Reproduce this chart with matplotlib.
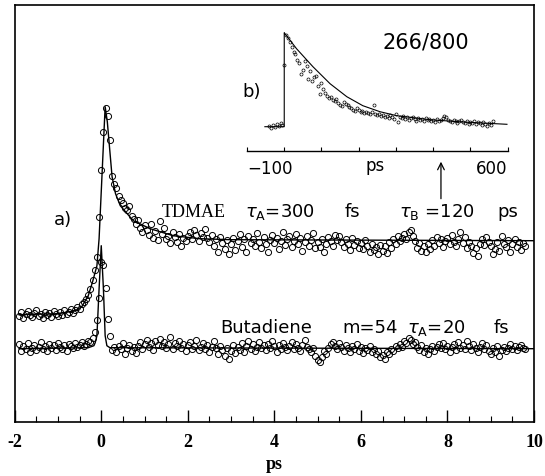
import numpy as np
import matplotlib.pyplot as plt

plt.rcParams['axes.unicode_minus'] = False

# ---- panel a): TDMAE and butadiene transients, delay step 0.05 ps ----
dt = 0.05

# TDMAE, t = -1.90 ... -0.65
tdmae_pre = [106, 110, 104, 108, 111, 107, 105, 109, 112, 106,
             108, 104, 110, 107, 109, 105, 111, 108, 106, 110,
             107, 112, 108, 110, 113, 109]
# TDMAE, t = -0.60 ... 1.95
tdmae_peak = [112, 115, 113, 118, 120, 123, 127, 133, 142, 152,
              165, 205, 252, 290, 314, 306, 282, 246, 238, 234,
              226, 222, 219, 214, 212, 216, 206, 203, 198, 202,
              194, 190, 197, 192, 187, 198, 184, 191, 182, 201,
              188, 194, 183, 186, 179, 190, 185, 180, 188, 176,
              184, 181]
# TDMAE, t = 2.00 ... 9.80
tdmae_tail = [186, 190, 183, 192, 187, 181, 189, 185, 193, 184,
              180, 187, 176, 183, 170, 185, 179, 173, 182, 168,
              178, 184, 172, 181, 188, 175, 183, 170, 186, 179,
              183, 176, 189, 180, 174, 185, 178, 170, 182, 187,
              179, 184, 173, 181, 190, 177, 183, 186, 175, 181,
              188, 178, 184, 171, 180, 186, 176, 182, 189, 174,
              180, 175, 183, 170, 178, 185, 181, 176, 187, 182,
              186, 180, 175, 183, 178, 172, 184, 177, 181, 174,
              179, 173, 182, 176, 170, 178, 172, 175, 168, 177,
              171, 176, 169, 180, 174, 183, 178, 186, 181, 184,
              188, 183, 190, 192, 186, 181, 174, 179, 171, 176,
              170, 178, 173, 182, 176, 185, 179, 183, 175, 181,
              184, 178, 187, 180, 176, 183, 190, 179, 185, 174,
              180, 176, 169, 174, 166, 178, 183, 177, 185, 180,
              176, 168, 173, 180, 171, 186, 178, 175, 182, 170,
              178, 183, 175, 180, 172, 179, 176]

# butadiene m=54, t = -1.90 ... -0.30
buta_pre = [78, 71, 76, 73, 79, 70, 74, 77, 72, 75,
            80, 73, 76, 71, 78, 74, 77, 72, 79, 75,
            73, 77, 71, 78, 76, 74, 79, 75, 77, 80,
            76, 78, 81]
# butadiene, t = -0.25 ... 0.30
buta_peak = [80, 84, 90, 102, 124, 160, 157, 134, 103, 86, 72, 75]
# butadiene, t = 0.35 ... 9.80
buta_tail = [70, 76, 73, 79, 68, 74, 77, 71, 75, 69,
             76, 80, 73, 78, 82, 75, 79, 72, 81, 77,
             83, 76, 80, 74, 78, 85, 73, 79, 76, 81,
             74, 78, 71, 77, 80, 73, 76, 82, 72, 75,
             79, 73, 77, 70, 75, 81, 74, 68, 76, 72,
             66, 74, 63, 71, 77, 69, 75, 72, 79, 70,
             76, 81, 73, 78, 71, 75, 80, 74, 77, 72,
             78, 74, 81, 76, 70, 77, 73, 79, 75, 72,
             76, 80, 73, 78, 74, 71, 77, 82, 75, 73,
             70, 74, 66, 62, 60, 65, 71, 68, 74, 78,
             80, 76, 73, 79, 75, 71, 77, 74, 70, 76,
             73, 78, 71, 75, 69, 74, 72, 76, 70, 73,
             68, 71, 65, 67, 63, 70, 68, 73, 71, 76,
             74, 78, 75, 81, 79, 84, 82, 78, 80, 75,
             72, 77, 70, 74, 68, 73, 76, 71, 75, 78,
             74, 79, 73, 76, 70, 75, 78, 72, 80, 74,
             77, 73, 81, 76, 72, 78, 74, 70, 75, 79,
             73, 77, 71, 68, 74, 70, 76, 66, 72, 75,
             71, 74, 78, 73, 76, 72, 75, 77, 74, 73]

# fitted curves
tdmae_fit_t = [-1.9, -1.0, -0.6, -0.45, -0.3, -0.2, -0.1, -0.05, 0.09, 0.14,
               0.25, 0.33, 0.44, 0.74, 1.13, 1.66, 2.28, 3.0, 10.0]
tdmae_fit_y = [107, 108, 111, 115, 126, 140, 156, 183, 315, 300,
               245, 228, 216, 201, 193, 186, 183, 182, 181]
buta_fit_t = [-1.9, -0.3, -0.17, -0.14, -0.1, -0.05, 0.0, 0.05, 0.09, 0.13, 0.2, 10.0]
buta_fit_y = [73, 74, 76, 79, 86, 133, 176, 133, 86, 76, 74, 73]

# ---- panel b): 266/800 long scan, step 5 ps ----
inset_pre = [25, 23, 26, 24, 27, 25, 28, 26]          # t = -40 ... -5
inset_rise = [86]                                      # t = 0
inset_decay = [116, 113, 109, 104, 99, 97, 91, 88, 77, 81,   # t = 5 ... 560
               90, 85, 72, 80, 70, 74, 75, 65, 57, 68,
               62, 58, 55, 53, 54, 51, 50, 52, 48, 46,
               45, 49, 47, 46, 44, 43, 41, 40, 43, 41,
               39, 40, 38, 39, 38, 37, 39, 46, 37, 36,
               37, 35, 36, 34, 35, 33, 36, 34, 32, 37,
               29, 34, 33, 35, 32, 34, 31, 33, 34, 32,
               30, 33, 31, 32, 30, 33, 31, 32, 30, 31,
               29, 32, 30, 31, 33, 35, 34, 31, 30, 29,
               31, 30, 28, 30, 31, 29, 28, 30, 27, 29,
               28, 30, 27, 29, 28, 26, 29, 27, 25, 28,
               26, 30]
inset_fit_t = [-52, 0, 0, 2, 33, 77, 123, 168, 211, 257, 302, 391, 480, 598]
inset_fit_y = [24, 24, 118, 117, 102, 84, 67, 54, 45, 39, 35, 31, 28.7, 26.4]
inset_ticks = [-100, 0, 100, 200, 300, 400, 500, 600]

# time grids
t_tdmae = np.concatenate([-1.9 + dt * np.arange(len(tdmae_pre)),
                          -0.6 + dt * np.arange(len(tdmae_peak)),
                          2.0 + dt * np.arange(len(tdmae_tail))])
y_tdmae = np.array(tdmae_pre + tdmae_peak + tdmae_tail)
t_buta = np.concatenate([-1.9 + dt * np.arange(len(buta_pre)),
                         -0.25 + dt * np.arange(len(buta_peak)),
                         0.35 + dt * np.arange(len(buta_tail))])
y_buta = np.array(buta_pre + buta_peak + buta_tail)
t_inset = np.concatenate([-40 + 5 * np.arange(len(inset_pre)),
                          [0],
                          5 + 5 * np.arange(len(inset_decay))])
y_inset = np.array(inset_pre + inset_rise + inset_decay)

serif = 'Liberation Serif'
sans = 'DejaVu Sans'

fig = plt.figure(figsize=(5.45, 4.77), dpi=100)
W, H = 545.0, 477.0
ax = fig.add_axes([14.7 / W, 1 - 422.7 / H, (534 - 14.7) / W, (422.7 - 5.7) / H])

mk = dict(marker='o', ls='none', mfc='none', mec='black', ms=4.4, mew=0.7)
ax.plot(t_tdmae, y_tdmae, **mk)
ax.plot(t_buta, y_buta, **mk)
ax.plot(tdmae_fit_t, tdmae_fit_y, color='black', lw=1.0)
ax.plot(buta_fit_t, buta_fit_y, color='black', lw=1.0)

ax.set_xlim(-2, 10)
ax.set_ylim(0, 417)
ax.set_xticks(np.arange(-2, 11, 2))
ax.set_xticks(np.arange(-2, 10.01, 0.5), minor=True)
ax.set_yticks([])
ax.tick_params(axis='x', which='both', direction='in', top=False, pad=8)
ax.tick_params(axis='x', which='major', length=8.6, width=1.0)
ax.tick_params(axis='x', which='minor', length=4.3, width=0.8)
for lab in ax.get_xticklabels():
    lab.set_fontfamily(serif)
    lab.set_fontweight('bold')
    lab.set_fontsize(13)
ax.set_xlabel('ps', fontfamily=serif, fontweight='bold', fontsize=13, labelpad=4)
for sp in ax.spines.values():
    sp.set_linewidth(1.2)

# annotations panel a)
ax.text(-1.106, 203, 'a)', fontfamily=sans, fontsize=13, va='center')
ax.text(1.405, 206, 'TDMAE', fontfamily=serif, fontsize=13, va='baseline')
ax.text(3.318, 206, r'$\tau_{\rm A}$=300', fontfamily=sans, fontsize=13, va='baseline')
ax.text(5.622, 206, 'fs', fontfamily=sans, fontsize=13, va='baseline')
ax.text(6.889, 206, r'$\tau_{\rm B}$ =120', fontfamily=sans, fontsize=13, va='baseline')
ax.text(9.147, 206, 'ps', fontfamily=sans, fontsize=13, va='baseline')
ax.text(2.742, 90, 'Butadiene', fontfamily=sans, fontsize=13, va='baseline')
ax.text(5.576, 90, 'm=54', fontfamily=sans, fontsize=13, va='baseline')
ax.text(7.074, 90, r'$\tau_{\rm A}$=20', fontfamily=sans, fontsize=13, va='baseline')
ax.text(9.078, 90, 'fs', fontfamily=sans, fontsize=13, va='baseline')
ax.text(3.272, 331, 'b)', fontfamily=sans, fontsize=13, va='center')
ax.text(7.5, 380.5, '266/800', fontfamily=sans, fontsize=15, va='center', ha='center')
ax.annotate('', xy=(7.85, 260), xytext=(7.85, 223),
            arrowprops=dict(arrowstyle='->', color='black', lw=0.9,
                            shrinkA=0, shrinkB=0, mutation_scale=12))

# ---- inset b) ----
ax2 = fig.add_axes([247 / W, 1 - 151.7 / H, (507.7 - 247) / W, 130 / H])
ax2.patch.set_visible(False)
ax2.plot(t_inset, y_inset, marker='o', ls='none', mfc='none', mec='black', ms=2.2, mew=0.5)
ax2.plot(inset_fit_t, inset_fit_y, color='black', lw=0.8)
ax2.set_xlim(-100, 600)
ax2.set_ylim(0, 130)
ax2.set_yticks([])
for s in ['top', 'left', 'right']:
    ax2.spines[s].set_visible(False)
ax2.spines['bottom'].set_linewidth(1.0)
ax2.set_xticks(inset_ticks)
ax2.set_xticklabels(['\u2212100', '', '', '', '', '', '', '600'])
ax2.tick_params(axis='x', direction='in', length=3, width=0.8, pad=6, labelsize=12)
labs = ax2.get_xticklabels()
labs[0].set_ha('left')
labs[-1].set_ha('right')
for lab in labs:
    lab.set_fontfamily(sans)
ax2.text(243.6, -14, 'ps', fontfamily=sans, fontsize=12, ha='center', va='center')

fig.savefig('out.png', dpi=100)
